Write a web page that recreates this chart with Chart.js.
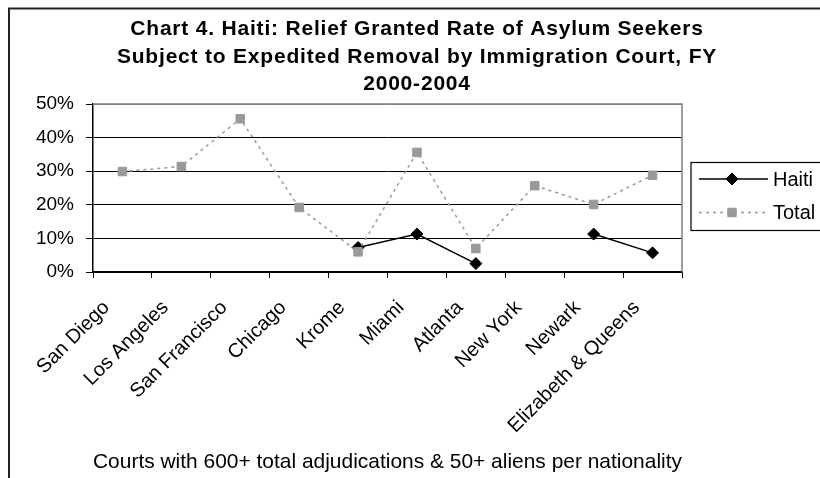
<!DOCTYPE html>
<html>
<head>
<meta charset="utf-8">
<script src="https://cdn.jsdelivr.net/npm/chart.js@4"></script>
<style>
  html, body { margin: 0; padding: 0; background: #fff; }
  canvas { display: block; }
</style>
</head>
<body>
<canvas id="chart" width="820" height="478"></canvas>
<script>
// Immigration courts along the horizontal axis
const courts = ['San Diego', 'Los Angeles', 'San Francisco', 'Chicago', 'Krome',
                'Miami', 'Atlanta', 'New York', 'Newark', 'Elizabeth & Queens'];
// Relief granted rate (%), Haitian asylum seekers; null where the court has no Haitian figure
const haitiRate = [null, null, null, null, 7.3, 11.3, 2.5, null, 11.3, 5.7];
// Relief granted rate (%), all asylum seekers
const totalRate = [29.9, 31.4, 45.6, 19.2, 6.0, 35.6, 7.0, 25.7, 20.1, 28.8];
// Percentage axis ticks
const yTicks = [0, 10, 20, 30, 40, 50];
const titleLines = [
  'Chart 4. Haiti: Relief Granted Rate of Asylum Seekers',
  'Subject to Expedited Removal by Immigration Court, FY',
  '2000-2004'
];
const xAxisTitle = 'Courts with 600+ total adjudications & 50+ aliens per nationality';
const seriesNames = ['Haiti', 'Total'];

const FONT = '"Liberation Sans", Arial, Helvetica, sans-serif';
Chart.defaults.font.family = FONT;
Chart.defaults.color = '#000';

function drawMarker(ctx, style, x, y, r, color) {
  ctx.save();
  ctx.fillStyle = color;
  ctx.strokeStyle = color;
  ctx.lineWidth = 1;
  ctx.setLineDash([]);
  ctx.beginPath();
  if (style === 'rectRot') {
    ctx.moveTo(x, y - r); ctx.lineTo(x + r, y); ctx.lineTo(x, y + r); ctx.lineTo(x - r, y);
    ctx.closePath();
  } else {
    const s = r * Math.SQRT1_2;
    ctx.rect(x - s, y - s, 2 * s, 2 * s);
  }
  ctx.fill();
  ctx.stroke();
  ctx.restore();
}

// Frame, title and legend drawn around the plot
const decor = {
  id: 'decor',
  afterDraw(chart) {
    const ctx = chart.ctx;
    const a = chart.chartArea;
    ctx.save();

    // grey top/right edges of the plot area
    ctx.strokeStyle = '#808080';
    ctx.lineWidth = 1.5;
    ctx.beginPath();
    ctx.moveTo(a.left, a.top);
    ctx.lineTo(a.right, a.top);
    ctx.lineTo(a.right, a.bottom);
    ctx.stroke();

    // outer chart frame
    ctx.strokeStyle = '#222';
    ctx.lineWidth = 2;
    ctx.strokeRect(9, 8.5, 900, 600);

    // title
    ctx.fillStyle = '#000';
    ctx.font = 'bold 21px ' + FONT;
    ctx.textAlign = 'center';
    ctx.textBaseline = 'alphabetic';
    if ('letterSpacing' in ctx) ctx.letterSpacing = '0.8px';
    titleLines.forEach((t, i) => ctx.fillText(t, 417, 35 + i * 27.5));
    if ('letterSpacing' in ctx) ctx.letterSpacing = '0px';

    // legend
    ctx.strokeStyle = '#000';
    ctx.lineWidth = 1.2;
    ctx.strokeRect(691, 162.5, 200, 68);
    ctx.font = '20px ' + FONT;
    ctx.textAlign = 'left';
    ctx.textBaseline = 'middle';
    seriesNames.forEach((name, i) => {
      const ds = chart.data.datasets.find(d => d.label === name);
      const y = 179 + i * 33.5;
      ctx.save();
      ctx.strokeStyle = ds.borderColor;
      ctx.lineWidth = ds.borderWidth;
      ctx.setLineDash(ds.borderDash || []);
      ctx.beginPath();
      ctx.moveTo(699, y);
      ctx.lineTo(768, y);
      ctx.stroke();
      ctx.restore();
      drawMarker(ctx, ds.pointStyle, 732, y, ds.pointRadius, ds.backgroundColor);
      ctx.fillStyle = '#000';
      ctx.fillText(name, 773, y + 1);
    });
    ctx.restore();
  }
};

new Chart(document.getElementById('chart'), {
  type: 'line',
  data: {
    labels: courts,
    datasets: [
      {
        label: seriesNames[0],
        data: haitiRate,
        borderColor: '#000',
        backgroundColor: '#000',
        borderWidth: 1.5,
        pointStyle: 'rectRot',
        pointRadius: 6,
        pointBorderWidth: 1,
        spanGaps: false,
        tension: 0,
        order: 1
      },
      {
        label: seriesNames[1],
        data: totalRate,
        borderColor: '#999999',
        backgroundColor: '#999999',
        borderWidth: 1.5,
        borderDash: [3, 4],
        pointStyle: 'rect',
        pointRadius: 6,
        pointBorderWidth: 1,
        tension: 0,
        order: 0
      }
    ]
  },
  options: {
    responsive: false,
    animation: false,
    devicePixelRatio: 1,
    layout: { padding: { top: 104, left: 0, right: 138, bottom: 0 } },
    plugins: {
      legend: { display: false },
      title: { display: false },
      tooltip: { enabled: false }
    },
    scales: {
      x: {
        offset: true,
        grid: { offset: true, drawOnChartArea: false, color: '#000', tickLength: 6, tickColor: '#000' },
        border: { color: '#000', width: 1.5 },
        ticks: {
          minRotation: 45, maxRotation: 45, autoSkip: false,
          color: '#000', font: { size: 20 }, padding: 18, labelOffset: -16
        },
        title: {
          display: true, text: xAxisTitle, color: '#000',
          font: { size: 21 }, padding: { top: 0, bottom: 3 }
        },
        afterFit(scale) { scale.height = 206; }
      },
      y: {
        min: yTicks[0],
        max: yTicks[yTicks.length - 1],
        ticks: {
          stepSize: yTicks[1] - yTicks[0],
          callback: v => v + '%',
          color: '#000', font: { size: 19 }, padding: 12
        },
        grid: {
          color: c => (c.tick && c.tick.value === yTicks[yTicks.length - 1]) ? '#808080' : '#000',
          lineWidth: 1,
          tickLength: 7,
          tickColor: '#000'
        },
        border: { color: '#000', width: 1.5 },
        afterFit(scale) { scale.width = 93; }
      }
    }
  },
  plugins: [decor]
});
</script>
</body>
</html>
